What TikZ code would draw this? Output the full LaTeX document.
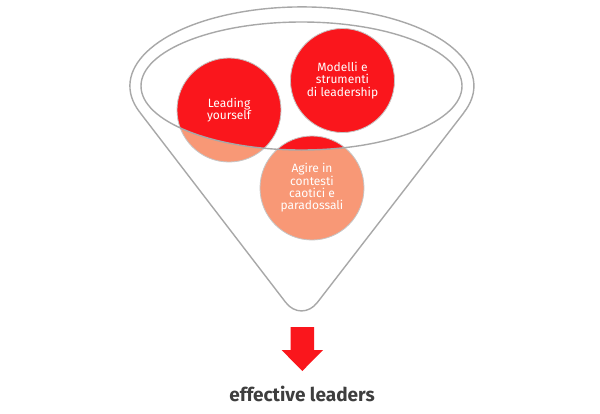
\documentclass[tikz,border=0pt]{standalone}
\usepackage{fontspec}
\setmainfont{Fira Sans}
\definecolor{funnelgray}{RGB}{168,168,168}
\definecolor{bubred}{RGB}{250,22,28}
\definecolor{bubsalmon}{RGB}{248,152,118}
\definecolor{textdark}{RGB}{62,62,62}
\begin{document}
\begin{tikzpicture}[x=1pt,y=-1pt,
  funnelline/.style={draw=funnelgray,line width=1.4pt},
  bubble/.style={circle,minimum size=104pt,inner sep=0pt,draw=gray!45,line width=0.8pt,
    text=white,align=center,font=\fontsize{12}{12.3}\selectfont}]
\fill[white] (0,0) rectangle (600,413);
\useasboundingbox (0,0) rectangle (600,413);
% lower (salmon) parts of the bubbles
\fill[bubsalmon] (229,110) circle (52pt);
\fill[bubsalmon] (342.5,80.5) circle (52pt);
\fill[bubsalmon] (312,188) circle (52pt);
% red parts inside the rim
\begin{scope}
  \clip (301.5,86) ellipse [x radius=160.5pt, y radius=64pt];
  \fill[bubred] (229,110) circle (52pt);
  \fill[bubred] (342.5,80.5) circle (52pt);
  \fill[bubred] (312,188) circle (52pt);
\end{scope}
\node[bubble] (ly) at (229,110) {Leading\\yourself};
\node[bubble] (ms) at (342.5,80.5) {Modelli e\\strumenti\\di leadership};
\node[bubble] (ag) at (312,188) {Agire in\\contesti\\caotici e\\paradossali};
% inner rim
\draw[funnelline] (301.5,86) ellipse [x radius=160.5pt, y radius=64pt];
% outer funnel
\draw[funnelline] (139.8,112.3) arc [start angle=199.5, end angle=-19.5, x radius=172pt, y radius=79pt];
\draw[funnelline,rounded corners=26pt] (139.8,112.3) -- (301.5,323) -- (464.2,112.3);
% arrow
\fill[bubred] (290.7,327) -- (314,327) -- (314,350) -- (323,350) -- (302.3,371)
  -- (281.6,350) -- (290.7,350) -- cycle;
\node[text=textdark,font=\fontsize{19}{22}\selectfont\bfseries] (el) at (302,394) {effective leaders};
\end{tikzpicture}
\end{document}
